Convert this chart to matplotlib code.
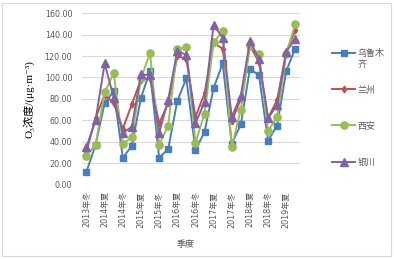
import matplotlib

matplotlib.use("Agg")
import matplotlib.pyplot as plt
from matplotlib.patches import Rectangle

plt.rcParams["font.family"] = ["DejaVu Sans", "Noto Sans CJK SC"]

# seasons from 2013 winter to 2019 autumn
categories = ["2013年冬"]
for year in range(2014, 2019):
    categories += [f"{year}年春", f"{year}年夏", f"{year}年秋", f"{year}年冬"]
categories += ["2019年春", "2019年夏", "2019年秋"]

urumqi = [12, 37, 76, 87, 25, 36, 81, 106, 25, 33, 78, 99, 32, 49, 90, 113,
          38, 56, 108, 102, 41, 55, 106, 127]
lanzhou = [31, 62, 84, 76, 52, 75, 98, 99, 57, 76, 120, 117, 63, 85, 132, 127,
           59, 80, 130, 114, 62, 79, 124, 144]
xian = [27, 37, 86, 104, 38, 44, 99, 123, 37, 55, 127, 128, 39, 66, 133, 143,
        35, 70, 129, 122, 50, 63, 122, 150]
yinchuan = [35, 60, 113, 81, 48, 54, 103, 102, 48, 79, 125, 121, 57, 77, 149, 137,
            63, 83, 134, 117, 62, 74, 124, 136]

# the first name wraps in the legend: "乌鲁木" / "齐"
series = [
    ("乌鲁木", urumqi, "#4A7EBB", "s", 5.0),
    ("兰州", lanzhou, "#C0504D", "d", 3.5),
    ("西安", xian, "#9BBB59", "o", 5.2),
    ("银川", yinchuan, "#8064A2", "^", 5.5),
]

grey = "#595959"
fig = plt.figure(figsize=(3.94, 2.59), dpi=100, facecolor="white")
ax = fig.add_axes([0.208, 0.288, 0.553, 0.661])

x = range(len(categories))
for name, values, color, marker, msize in series:
    ax.plot(x, values, color=color, linewidth=1.4, marker=marker,
            markersize=msize, label=name)

ax.set_xlim(-0.5, len(categories) - 0.5)
ax.set_ylim(0, 160)
ax.set_yticks(range(0, 161, 20))
ax.set_yticklabels([f"{v:.2f}" for v in range(0, 161, 20)])
ax.set_xticks(range(0, len(categories), 2))
ax.set_xticklabels(categories[::2], rotation=90)
ax.tick_params(axis="both", length=0, labelsize=5.8, colors=grey)
ax.tick_params(axis="x", pad=5)
ax.tick_params(axis="y", pad=7)
ax.grid(axis="y", color="#D9D9D9", linewidth=0.8)
ax.set_axisbelow(True)
for side in ["top", "right", "left", "bottom"]:
    ax.spines[side].set_visible(False)

ax.set_ylabel("O₃浓度/(μg·m⁻³)", fontsize=8, color="black", labelpad=7,
              family=["Liberation Serif", "DejaVu Serif", "Noto Sans CJK SC"])
fig.text(0.47, 0.055, "季度", fontsize=6.5, color=grey, ha="center", va="center")

leg = ax.legend(loc="center left", bbox_to_anchor=(1.133, 0.446), frameon=False,
                fontsize=6.5, labelspacing=3.0, handlelength=2.5,
                handletextpad=0.3, borderaxespad=0)
for text in leg.get_texts():
    text.set_color(grey)

# second line of the wrapped first legend label
fig.canvas.draw()
first = leg.get_texts()[0].get_window_extent()
fx, fy = fig.transFigure.inverted().transform((first.x0, first.y0))
fig.text(fx, fy - 0.005, "齐", fontsize=6.5, color=grey, ha="left", va="top")

fig.patches.append(Rectangle((0.006, 0.01), 0.986, 0.98, transform=fig.transFigure,
                             fill=False, edgecolor="#D9D9D9", linewidth=0.8))

fig.savefig("out.png", dpi=100)
